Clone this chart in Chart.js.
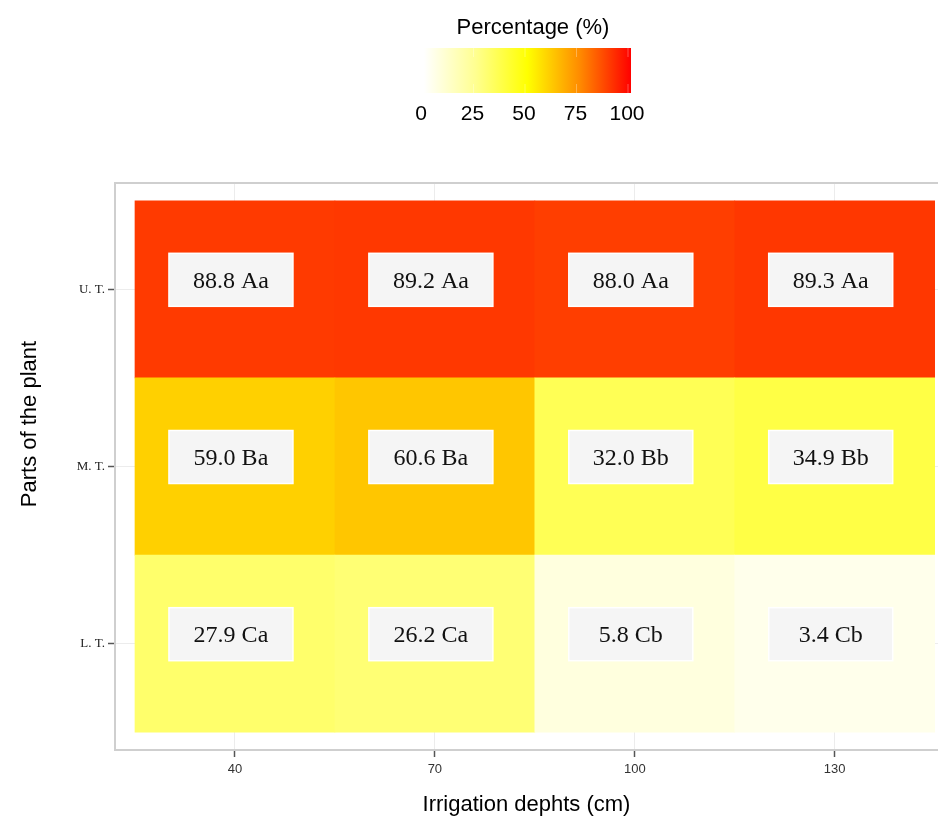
<!DOCTYPE html>
<html>
<head>
<meta charset="utf-8">
<script src="https://cdn.jsdelivr.net/npm/chart.js@4.4.0/dist/chart.umd.min.js"></script>
<style>
  body { margin: 0; background: #fff; }
  #wrap { width: 938px; height: 820px; }
</style>
</head>
<body>
<div id="wrap"><canvas id="heat"></canvas></div>
<script>
// data
const depths = [40, 70, 100, 130];
const parts = ['U. T.', 'M. T.', 'L. T.'];
const utValues = [88.8, 89.2, 88.0, 89.3];
const mtValues = [59.0, 60.6, 32.0, 34.9];
const ltValues = [27.9, 26.2, 5.8, 3.4];
const utLetters = ['Aa', 'Aa', 'Aa', 'Aa'];
const mtLetters = ['Ba', 'Ba', 'Bb', 'Bb'];
const ltLetters = ['Ca', 'Ca', 'Cb', 'Cb'];
const legendTicks = [0, 25, 50, 75, 100];

const rowValues = [utValues, mtValues, ltValues];
const rowLetters = [utLetters, mtLetters, ltLetters];

// colour scale (value -> rgb), tuned to the picture
const stops = [
    [0, 255, 255, 255],
    [5, 255, 255, 226],
    [27, 255, 255, 112],
    [35, 255, 255, 68],
    [59, 255, 208, 0],
    [61, 255, 196, 0],
    [89, 255, 57, 0],
    [100, 255, 0, 0]
];
function heatColor(v) {
    for (let i = 1; i < stops.length; i++) {
        if (v <= stops[i][0]) {
            const a = stops[i - 1], b = stops[i];
            const t = (v - a[0]) / (b[0] - a[0]);
            const c = [1, 2, 3].map(k => Math.round(a[k] + (b[k] - a[k]) * t));
            return `rgb(${c[0]}, ${c[1]}, ${c[2]})`;
        }
    }
    return 'rgb(255, 0, 0)';
}

// build cells
const cells = [];
const colors = [];
const texts = [];
rowValues.forEach((vals, r) => {
    const yc = parts.length - r;
    vals.forEach((v, c) => {
        cells.push({ x: depths[c], y: [yc - 0.5, yc + 0.5] });
        colors.push(heatColor(v));
        texts.push(v.toFixed(1) + ' ' + rowLetters[r][c]);
    });
});

// labels on cells, panel frame, colour legend, y title
const decor = {
    id: 'decor',
    afterDatasetsDraw(chart) {
        const ctx = chart.ctx;
        const meta = chart.getDatasetMeta(0);
        ctx.save();
        ctx.font = '24px "Liberation Serif", "Times New Roman", serif';
        ctx.textAlign = 'center';
        ctx.textBaseline = 'middle';
        meta.data.forEach((bar, i) => {
            const cx = bar.x - 4;
            const cy = (bar.y + bar.base) / 2 - 9;
            ctx.fillStyle = '#f5f5f5';
            ctx.fillRect(cx - 62, cy - 27, 124, 53);
            ctx.strokeStyle = '#ffffff';
            ctx.lineWidth = 1.5;
            ctx.strokeRect(cx - 62, cy - 27, 124, 53);
            ctx.fillStyle = '#111';
            ctx.fillText(texts[i], cx, cy + 1);
        });
        ctx.restore();
    },
    afterDraw(chart) {
        const ctx = chart.ctx;
        const a = chart.chartArea;
        ctx.save();
        // panel frame
        ctx.strokeStyle = '#cfcfcf';
        ctx.lineWidth = 2;
        ctx.strokeRect(a.left, a.top, a.right - a.left + 10, a.bottom - a.top);

        // y title
        ctx.fillStyle = '#000';
        ctx.font = '22px "Liberation Sans", Arial, sans-serif';
        ctx.textAlign = 'center';
        ctx.textBaseline = 'middle';
        ctx.translate(30, 424);
        ctx.rotate(-Math.PI / 2);
        ctx.fillText('Parts of the plant', 0, 0);
        ctx.restore();

        // colour legend
        ctx.save();
        const bx = 424, bw = 207, by = 48, bh = 45;
        const g = ctx.createLinearGradient(bx, 0, bx + bw, 0);
        g.addColorStop(0, '#ffffff');
        g.addColorStop(0.25, '#ffff90');
        g.addColorStop(0.5, '#ffff00');
        g.addColorStop(0.75, '#ff8c00');
        g.addColorStop(1, '#ff0000');
        ctx.fillStyle = g;
        ctx.fillRect(bx, by, bw, bh);
        const px = v => 422 + v * 2.06;
        ctx.strokeStyle = 'rgba(255,255,255,0.3)';
        ctx.lineWidth = 1;
        legendTicks.forEach(v => {
            if (v === 0) return;
            ctx.beginPath();
            ctx.moveTo(px(v), by);
            ctx.lineTo(px(v), by + 9);
            ctx.moveTo(px(v), by + bh - 9);
            ctx.lineTo(px(v), by + bh);
            ctx.stroke();
        });
        ctx.fillStyle = '#000';
        ctx.font = '21px "Liberation Sans", Arial, sans-serif';
        ctx.textAlign = 'center';
        ctx.textBaseline = 'middle';
        legendTicks.forEach(v => ctx.fillText(String(v), px(v) - 1, 114));
        ctx.font = '22px "Liberation Sans", Arial, sans-serif';
        ctx.fillText('Percentage (%)', 533, 28);
        ctx.restore();
    }
};

new Chart(document.getElementById('heat'), {
    type: 'bar',
    data: {
        datasets: [{
            data: cells,
            backgroundColor: colors,
            borderWidth: 0,
            barPercentage: 1,
            categoryPercentage: 1
        }]
    },
    options: {
        responsive: true,
        maintainAspectRatio: false,
        animation: false,
        layout: { padding: { top: 183, right: 0, bottom: 0, left: 0 } },
        plugins: {
            legend: { display: false },
            tooltip: { enabled: false }
        },
        scales: {
            x: {
                type: 'linear',
                min: 22,
                max: 145.5,
                offset: false,
                afterBuildTicks: s => { s.ticks = depths.map(v => ({ value: v })); },
                afterFit: s => { s.height = 70; },
                grid: { offset: false, color: '#ececec', tickColor: '#555', tickLength: 7, tickWidth: 1.5 },
                border: { display: false },
                ticks: {
                    color: '#333',
                    padding: 5,
                    font: { family: '"Liberation Sans", Arial, sans-serif', size: 13 }
                },
                title: {
                    display: true,
                    text: 'Irrigation dephts (cm)',
                    color: '#000',
                    padding: { top: 0, bottom: 2 },
                    font: { family: '"Liberation Sans", Arial, sans-serif', size: 22 }
                }
            },
            y: {
                type: 'linear',
                min: 0.4,
                max: 3.6,
                offset: false,
                afterBuildTicks: s => { s.ticks = parts.map((p, i) => ({ value: parts.length - i })); },
                afterFit: s => { s.width = 115; },
                grid: { offset: false, color: '#ececec', tickColor: '#555', tickLength: 7, tickWidth: 1.5 },
                border: { display: false },
                ticks: {
                    color: '#222',
                    padding: 3,
                    font: { family: '"Liberation Serif", "Times New Roman", serif', size: 13 },
                    callback: v => parts[parts.length - v]
                }
            }
        }
    },
    plugins: [decor]
});
</script>
</body>
</html>
